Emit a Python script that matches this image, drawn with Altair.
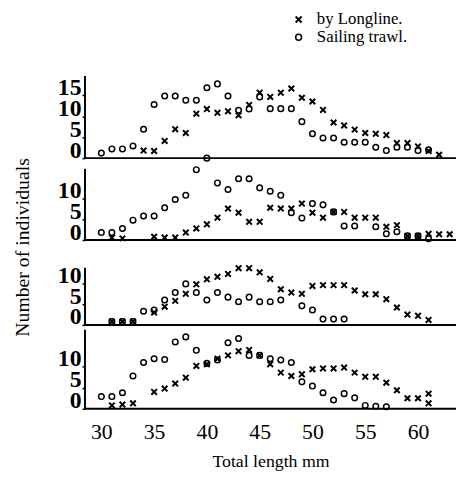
import altair as alt
import pandas as pd

# ---------------- data ----------------
SERIES = ["by Longline.", "Sailing trawl."]

# Panel 1
p1_long_len = [34, 35, 36, 37, 38, 39, 40, 41, 42, 43, 44, 45, 46, 47, 48, 49, 50, 51, 52, 53, 54, 55, 56, 57, 58, 59, 60, 61, 62]
p1_long_n = [1.8, 1.7, 4.1, 6.9, 6.0, 10.6, 11.7, 10.8, 11.2, 10.2, 12.7, 15.6, 14.6, 15.6, 16.6, 14.4, 13.5, 11.5, 8.5, 7.8, 6.8, 6.0, 5.8, 5.5, 3.6, 3.6, 2.8, 1.7, 0.8]
p1_trawl_len = [30, 31, 32, 33, 34, 35, 36, 37, 38, 39, 40, 40, 41, 42, 43, 44, 45, 46, 47, 48, 49, 50, 51, 52, 53, 54, 55, 56, 57, 58, 59, 60, 61]
p1_trawl_n = [1.2, 2.2, 2.2, 2.9, 6.9, 12.8, 14.8, 14.8, 13.8, 13.8, 16.8, 0.0, 17.7, 14.8, 11.4, 11.7, 14.6, 11.8, 11.8, 11.8, 8.7, 5.8, 4.8, 4.8, 3.8, 3.8, 3.8, 2.6, 1.8, 2.6, 2.6, 1.8, 2.0]

# Panel 2
p2_long_len = [31, 32, 35, 36, 37, 38, 39, 40, 41, 42, 43, 44, 45, 46, 47, 48, 49, 50, 51, 52, 53, 54, 55, 56, 57, 58, 59, 60, 61, 62, 63]
p2_long_n = [0.6, 0.4, 0.8, 0.6, 0.6, 1.8, 2.8, 3.8, 5.4, 7.6, 6.6, 4.4, 4.4, 7.8, 7.6, 7.6, 8.8, 6.6, 5.4, 6.8, 6.8, 5.4, 5.4, 5.4, 3.2, 3.6, 1.0, 1.0, 1.5, 1.4, 1.4]
p2_trawl_len = [30, 31, 32, 33, 34, 35, 36, 37, 38, 39, 41, 42, 43, 44, 45, 46, 47, 48, 49, 50, 51, 52, 53, 54, 56, 57, 58, 59, 60, 61]
p2_trawl_n = [1.8, 1.8, 2.8, 4.8, 5.8, 5.8, 7.8, 9.8, 10.8, 17.0, 13.8, 12.2, 14.8, 14.8, 12.6, 11.8, 10.8, 6.6, 5.3, 8.8, 8.5, 6.8, 3.4, 3.4, 3.2, 1.5, 2.0, 1.0, 1.0, 0.3]

# Panel 3
p3_long_len = [31, 32, 33, 35, 36, 37, 38, 39, 40, 41, 42, 43, 44, 45, 46, 47, 48, 49, 50, 51, 52, 53, 54, 55, 56, 57, 58, 59, 60, 61]
p3_long_n = [0.8, 0.8, 0.8, 3.0, 4.4, 5.8, 7.5, 9.8, 11.0, 11.6, 12.3, 13.7, 13.7, 12.7, 11.1, 8.6, 7.8, 7.5, 9.4, 9.6, 9.6, 9.6, 8.3, 7.4, 7.4, 6.2, 4.2, 2.5, 2.2, 1.2]
p3_trawl_len = [31, 32, 33, 34, 35, 36, 37, 38, 39, 40, 41, 42, 43, 44, 45, 46, 47, 49, 50, 51, 52, 53]
p3_trawl_n = [0.8, 0.8, 0.8, 3.3, 3.6, 6.0, 7.8, 9.9, 7.8, 6.0, 7.8, 6.7, 5.6, 6.7, 5.6, 5.6, 6.0, 4.6, 3.6, 1.4, 1.4, 1.4]

# Panel 4
p4_long_len = [31, 32, 33, 35, 36, 37, 38, 39, 40, 41, 42, 43, 44, 45, 46, 47, 48, 49, 50, 51, 52, 53, 54, 55, 56, 57, 58, 59, 60, 61, 61]
p4_long_n = [0.8, 1.0, 1.3, 4.0, 4.8, 6.0, 7.4, 10.2, 10.6, 11.9, 12.7, 13.7, 14.0, 12.7, 10.6, 8.6, 7.8, 8.2, 9.4, 9.6, 9.6, 9.8, 8.6, 7.6, 7.6, 6.2, 4.4, 2.5, 2.5, 3.6, 1.3]
p4_trawl_len = [30, 31, 32, 33, 34, 35, 36, 37, 38, 39, 40, 41, 42, 43, 44, 45, 46, 47, 48, 49, 50, 51, 52, 53, 54, 55, 56, 57]
p4_trawl_n = [2.9, 2.9, 3.8, 7.8, 11.0, 11.9, 11.7, 15.9, 17.1, 13.9, 10.8, 11.6, 15.7, 16.7, 12.7, 12.7, 11.9, 11.6, 11.0, 6.4, 5.4, 3.8, 2.1, 3.6, 2.6, 0.8, 0.6, 0.5]

X_TICKS = [30, 35, 40, 45, 50, 55, 60]
# top of each panel's vertical axis line (in counts)
AXIS_TOPS = [19.6, 17.2, 13.8, 18.8]

# ---------------- styling ----------------
FONT = "Liberation Serif"
X_DOMAIN = [28.45, 63.6]
WIDTH = 376
CROSS = "M-1,-1L1,1M-1,1L1,-1"


def make_df(llen, ln, tlen, tn):
    a = pd.DataFrame({"len": llen, "n": ln, "series": SERIES[0]})
    b = pd.DataFrame({"len": tlen, "n": tn, "series": SERIES[1]})
    return pd.concat([a, b], ignore_index=True)


def panel(df, top, height, yvals, axis_top, bottom=False, first=False, ytitle=False):
    xscale = alt.Scale(domain=X_DOMAIN, nice=False, zero=False)
    yscale = alt.Scale(domain=[0, top], nice=False, zero=True)
    if bottom:
        x_axis = alt.Axis(values=X_TICKS, labels=True, tickSize=0, labelPadding=13,
                          labelFontSize=22, domain=False, labelOverlap=False,
                          grid=False, titleFontSize=18, titlePadding=10,
                          titleFont=FONT, labelFont=FONT, labelColor="black",
                          titleFontWeight="normal", titleColor="black")
        x_title = "Total length mm"
    else:
        x_axis = alt.Axis(values=X_TICKS, labels=False, ticks=False,
                          domain=False, grid=False)
        x_title = None

    y_kw = dict(values=yvals, tickSize=3, tickColor="black", tickWidth=1.5,
                labelFontSize=24, labelFont=FONT, labelColor="black",
                labelFontWeight="bold",
                labelBaseline="alphabetic", labelPadding=1, labelOffset=-1,
                labelOverlap=False, labelFlush=False,
                domain=False, grid=False)
    if ytitle:
        y_kw.update(titleFontSize=20, titleFont=FONT, titleFontWeight="normal",
                    titleColor="black", titleX=-63, titleY=80,
                    titleAlign="center", titleBaseline="middle", titleAngle=270)
        y_title = "Number of individuals"
    else:
        y_title = None
    y_axis = alt.Axis(**y_kw)

    if first:
        legend = alt.Legend(orient="none", legendX=208, legendY=-64, title=None,
                            labelFont=FONT, labelFontSize=17, labelColor="black",
                            symbolStrokeColor="black", symbolStrokeWidth=1.6,
                            symbolSize=36, rowPadding=0, clipHeight=17,
                            labelOffset=10, padding=0)
    else:
        legend = None

    pts = alt.Chart(df).mark_point(
        filled=False, color="black", size=32, opacity=1
    ).encode(
        x=alt.X("len:Q", title=x_title, scale=xscale, axis=x_axis),
        y=alt.Y("n:Q", title=y_title, scale=yscale, axis=y_axis),
        shape=alt.Shape("series:N",
                        scale=alt.Scale(domain=SERIES, range=[CROSS, "circle"]),
                        legend=legend),
        strokeWidth=alt.StrokeWidth("series:N",
                                    scale=alt.Scale(domain=SERIES, range=[2.0, 1.5]),
                                    legend=None),
    )
    # vertical axis line
    yline = alt.Chart(pd.DataFrame({"x": [X_DOMAIN[0]], "y0": [0], "y1": [axis_top]})).mark_rule(
        color="black", strokeWidth=2
    ).encode(
        x=alt.X("x:Q", scale=xscale, title=x_title, axis=x_axis),
        y=alt.Y("y0:Q", scale=yscale, title=y_title, axis=y_axis),
        y2="y1:Q",
    )
    # horizontal baseline
    xline = alt.Chart(pd.DataFrame({"x0": [X_DOMAIN[0]], "x1": [X_DOMAIN[1]], "y": [0]})).mark_rule(
        color="black", strokeWidth=2
    ).encode(
        x=alt.X("x0:Q", scale=xscale, title=x_title, axis=x_axis),
        x2="x1:Q",
        y=alt.Y("y:Q", scale=yscale, title=y_title, axis=y_axis),
    )
    return alt.layer(pts, yline, xline).properties(width=WIDTH, height=height)


c1 = panel(make_df(p1_long_len, p1_long_n, p1_trawl_len, p1_trawl_n), 20, 85, [0, 5, 10, 15], AXIS_TOPS[0], first=True)
c2 = panel(make_df(p2_long_len, p2_long_n, p2_trawl_len, p2_trawl_n), 17.4, 73, [0, 5, 10], AXIS_TOPS[1], ytitle=True)
c3 = panel(make_df(p3_long_len, p3_long_n, p3_trawl_len, p3_trawl_n), 18.1, 76, [0, 5, 10], AXIS_TOPS[2])
c4 = panel(make_df(p4_long_len, p4_long_n, p4_trawl_len, p4_trawl_n), 17.6, 75, [0, 5, 10], AXIS_TOPS[3], bottom=True)

chart = alt.vconcat(c1, c2, c3, c4, spacing=10, bounds="flush").resolve_scale(
    shape="independent", strokeWidth="independent"
).resolve_legend(shape="independent").properties(
    padding={"left": 5, "top": 0, "right": 0, "bottom": 5}
).configure(font=FONT).configure_view(stroke=None)

chart.save("out.html", embed_options={"renderer": "svg", "actions": False})
